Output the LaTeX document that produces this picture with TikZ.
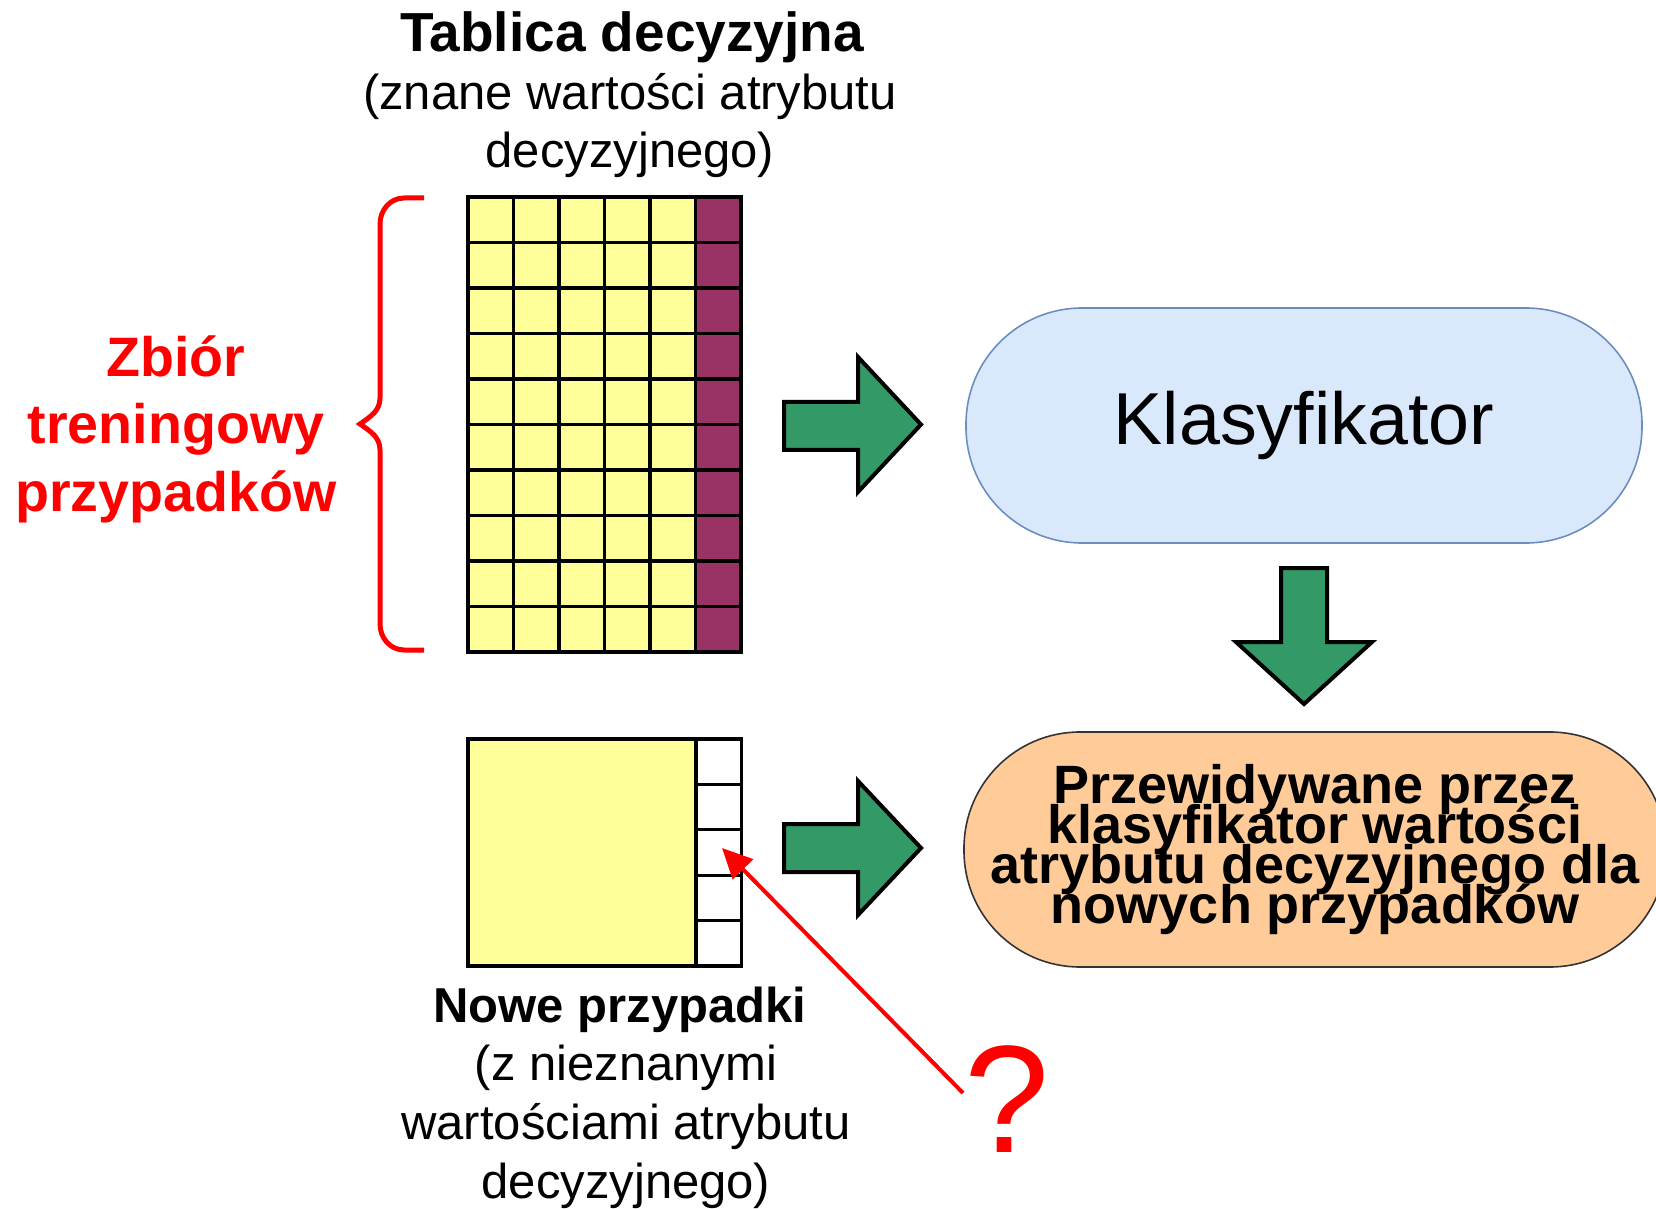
\documentclass[tikz,border=0pt]{standalone}
\usepackage{fontspec}
\setmainfont{Liberation Sans}
\usetikzlibrary{positioning, arrows.meta}

\definecolor{cellyellow}{HTML}{FFFF99}
\definecolor{cellpurple}{HTML}{993366}
\definecolor{arrgreen}{HTML}{339966}
\definecolor{clsblue}{HTML}{DAE8FC}
\definecolor{clsborder}{HTML}{6C8EBF}
\definecolor{predorange}{HTML}{FFCC99}
\newcommand{\tightlines}{\lineskiplimit=-100pt\relax}

\begin{document}
\begin{tikzpicture}[x=0.5pt, y=-0.5pt,
    cell/.style={draw=black, line width=1.6pt},
    bigarrow/.style={draw=black, line width=2pt, fill=arrgreen, line join=miter},
    stadium/.style={rectangle, rounded corners=58pt, minimum width=338pt, minimum height=117.5pt, align=center, line width=0.8pt},
    redarrow/.style={red, line width=2pt, -{Triangle[length=15pt, width=14pt]}}]
\useasboundingbox (0,0) rectangle (1656,1209);

\node[font=\fontsize{27.5}{33}\selectfont\bfseries] (title) at (632,37) {Tablica decyzyjna};
\node[align=center, font=\fontsize{24.5}{29}\selectfont] (titlesub) at (630,126) {(znane wartości atrybutu\\decyzyjnego)};

\foreach \c in {0,...,4}
  \foreach \r in {0,...,9}
    \draw[cell, fill=cellyellow] ({468+45.5*\c},{197+45.5*\r}) rectangle +(45.5,45.5);
\foreach \r in {0,...,9}
  \draw[cell, fill=cellpurple] (695.5,{197+45.5*\r}) rectangle +(45.5,45.5);

\draw[red, line width=2.5pt]
    (424,198) -- (404,198) to[out=180, in=90] (380,224) -- (380,398)
    to[out=-90, in=35] (360,424) to[out=-35, in=90] (380,450) -- (380,624)
    to[out=-90, in=180] (404,650) -- (424,650);
\node[red, align=center, font=\fontsize{27.8}{33.8}\selectfont\bfseries] (trainlbl) at (176,429) {Zbiór\\treningowy\\przypadków};

\draw[bigarrow] (784,402) -- (858,402) -- (858,357) -- (921,424.5) -- (858,492) -- (858,450) -- (784,450) -- cycle;

\node[stadium, draw=clsborder, fill=clsblue, font=\fontsize{36.8}{44}\selectfont] (cls) at (1304,425.5) {Klasyfikator};

\draw[bigarrow] (1281,568) -- (1327,568) -- (1327,642) -- (1372,642) -- (1304,704) -- (1236,642) -- (1281,642) -- cycle;

\node[stadium, draw=black!80, fill=predorange, minimum width=351pt, font=\fontsize{27}{20}\selectfont\bfseries\tightlines] (pred) at (1315,849.5)
    {Przewidywane przez\\klasyfikator wartości\\atrybutu decyzyjnego dla\\nowych przypadków};

\draw[bigarrow] (784,824) -- (858,824) -- (858,781) -- (921,848) -- (858,915) -- (858,872) -- (784,872) -- cycle;

\draw[cell, fill=cellyellow] (468,739) rectangle (696,966);
\foreach \r in {0,...,4}
  \draw[cell, fill=white] (696,{739+45.4*\r}) rectangle +(45.5,45.4);
\coordinate (unknown) at (722,848);

\node[font=\fontsize{24.5}{29}\selectfont\bfseries] (newlbl) at (620,1010) {Nowe przypadki};
\node[align=center, font=\fontsize{24.5}{29.5}\selectfont] (newsub) at (626,1127) {(z nieznanymi\\wartościami atrybutu\\decyzyjnego)};

\node[red, font=\fontsize{76.5}{80}\selectfont, inner sep=0pt] (quest) at (1007,1099) {?};
\coordinate (qtail) at (963,1093);
\draw[redarrow] (qtail) -- (unknown);
\end{tikzpicture}
\end{document}
